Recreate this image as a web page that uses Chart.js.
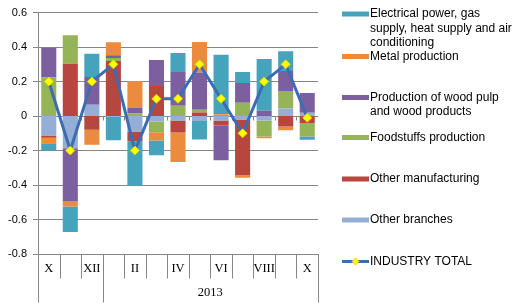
<!DOCTYPE html>
<html lang="en">
<head>
<meta charset="UTF-8">
<title>Industry contributions</title>
<script src="https://cdn.jsdelivr.net/npm/chart.js@4.4.1/dist/chart.umd.min.js"></script>
<style>
  body { margin: 0; background: #fff; }
  canvas { display: block; }
</style>
</head>
<body>
<canvas id="myChart" width="523" height="305"></canvas>
<script>
// months X.2012 .. X.2013
const months = ['X', 'XI', 'XII', 'I', 'II', 'III', 'IV', 'V', 'VI', 'VII', 'VIII', 'IX', 'X'];
const monthTicks = ['X', '', 'XII', '', 'II', '', 'IV', '', 'VI', '', 'VIII', '', 'X'];
const yearLabel = '2013';
const yearStart = 3; // index of I.2013

const otherBranches  = [-0.113, -0.187, 0.065, -0.005, -0.090, -0.031, -0.026, -0.029, -0.026, -0.020, -0.026, 0.044, 0.019];
const otherManuf     = [-0.013, 0.304, -0.079, 0.319, -0.056, 0.175, -0.070, 0.020, -0.029, -0.323, 0.000, -0.060, -0.042];
const foodstuffs     = [0.223, 0.165, 0.000, 0.017, 0.015, -0.063, 0.060, 0.017, 0.000, 0.077, -0.092, 0.102, -0.077];
const woodPulp       = [0.173, -0.308, 0.162, 0.017, 0.035, 0.150, 0.196, 0.215, -0.202, 0.115, 0.031, 0.115, 0.115];
const metal          = [-0.031, -0.029, -0.087, 0.075, 0.154, -0.048, -0.170, 0.177, 0.010, -0.015, -0.010, -0.023, 0.000];
const electrical     = [-0.042, -0.148, 0.135, -0.135, -0.258, -0.085, 0.110, -0.107, 0.345, 0.063, 0.300, 0.115, -0.019];
const industryTotal  = [0.20, -0.20, 0.20, 0.30, -0.20, 0.10, 0.10, 0.30, 0.10, -0.10, 0.20, 0.30, -0.01];

// legend text, top to bottom
const legendText = [
  ['Electrical power, gas', 'supply, heat supply and air', 'conditioning'],
  ['Metal production'],
  ['Production of wood pulp', 'and wood products'],
  ['Foodstuffs production'],
  ['Other manufacturing'],
  ['Other branches'],
  ['INDUSTRY TOTAL']
];

const colors = {
  elec: '#46A3BC', metal: '#EA8B3E', wood: '#7C5F9F',
  food: '#94B457', manuf: '#B6463F', other: '#95AED5',
  line: '#3D6CB3', marker: '#FFFF00'
};

function drawDiamond(ctx, cx, cy, r) {
  ctx.beginPath();
  ctx.moveTo(cx - r, cy); ctx.lineTo(cx, cy - r);
  ctx.lineTo(cx + r, cy); ctx.lineTo(cx, cy + r);
  ctx.closePath();
  ctx.fillStyle = colors.marker; ctx.fill();
  ctx.strokeStyle = '#D8D800'; ctx.lineWidth = 1; ctx.stroke();
}

const decorations = {
  id: 'decorations',
  beforeDatasetsDraw(chart) {
    // small ticks on the zero axis
    const { ctx, chartArea } = chart;
    const n = months.length;
    const cw = (chartArea.right - chartArea.left) / n;
    const y0 = Math.round(chart.scales.y.getPixelForValue(0)) + 0.5;
    ctx.save();
    ctx.strokeStyle = '#868686'; ctx.lineWidth = 1;
    ctx.beginPath();
    for (let k = 1; k < n; k++) {
      const bx = Math.round(chartArea.left + k * cw) + 0.5;
      ctx.moveTo(bx, y0); ctx.lineTo(bx, y0 + 4);
    }
    ctx.stroke();
    ctx.restore();
  },
  afterDraw(chart) {
    const { ctx, chartArea } = chart;
    const x = chart.scales.x;
    const n = months.length;
    const cw = (chartArea.right - chartArea.left) / n;
    const base = Math.round(chartArea.bottom) + 0.5;
    ctx.save();
    ctx.strokeStyle = '#868686'; ctx.lineWidth = 1;
    ctx.beginPath();
    for (let k = 0; k <= n; k++) {
      const bx = Math.round(chartArea.left + k * cw) + 0.5;
      const long = k === 0 || k === yearStart || k === n;
      ctx.moveTo(bx, base); ctx.lineTo(bx, base + (long ? 48 : 24));
    }
    ctx.stroke();

    ctx.fillStyle = '#000';
    ctx.font = '12.5px "Liberation Serif"';
    ctx.textAlign = 'center'; ctx.textBaseline = 'middle';
    monthTicks.forEach((t, i) => { if (t) ctx.fillText(t, x.getPixelForValue(i), base + 14.5); });
    ctx.fillText(yearLabel, chartArea.left + (yearStart + n) / 2 * cw, base + 38);

    // legend
    const swColors = [colors.elec, colors.metal, colors.wood, colors.food, colors.manuf, colors.other, null];
    const ys = [14, 56.5, 97.5, 137.5, 179, 220, 261.5];
    ctx.font = '12px "Liberation Sans"';
    ctx.textAlign = 'left';
    legendText.forEach((lines, i) => {
      const cy = ys[i];
      if (swColors[i]) {
        ctx.fillStyle = swColors[i];
        ctx.fillRect(342, cy - 2.5, 27, 5);
      } else {
        ctx.strokeStyle = colors.line; ctx.lineWidth = 3;
        ctx.beginPath(); ctx.moveTo(342, cy); ctx.lineTo(369, cy); ctx.stroke();
        drawDiamond(ctx, 355.5, cy, 3.5);
      }
      ctx.fillStyle = '#000';
      lines.forEach((s, j) => ctx.fillText(s, 370, cy + j * 14.5));
    });
    ctx.restore();
  }
};

const barSet = (label, data, color) => ({
  type: 'bar', label: label, data: data, backgroundColor: color,
  barPercentage: 0.7, categoryPercentage: 1
});

const ctx = document.getElementById('myChart').getContext('2d');
const myChart = new Chart(ctx, {
  type: 'bar',
  data: {
    labels: months,
    datasets: [
      {
        type: 'line', label: 'INDUSTRY TOTAL', data: industryTotal,
        borderColor: colors.line, borderWidth: 3, tension: 0,
        pointStyle: 'rectRot', pointRadius: 4.5,
        pointBackgroundColor: colors.marker, pointBorderColor: '#D8D800', pointBorderWidth: 1
      },
      barSet('Other branches', otherBranches, colors.other),
      barSet('Other manufacturing', otherManuf, colors.manuf),
      barSet('Foodstuffs production', foodstuffs, colors.food),
      barSet('Production of wood pulp and wood products', woodPulp, colors.wood),
      barSet('Metal production', metal, colors.metal),
      barSet('Electrical power, gas supply, heat supply and air conditioning', electrical, colors.elec)
    ]
  },
  options: {
    responsive: false,
    animation: false,
    layout: { padding: { top: 11, right: 205, left: 0, bottom: 0 } },
    plugins: { legend: { display: false }, tooltip: { enabled: false } },
    scales: {
      x: {
        stacked: true,
        grid: { display: false },
        border: { display: true, color: '#868686' },
        ticks: { display: false },
        afterFit(s) { s.height = 51; }
      },
      y: {
        stacked: true,
        min: -0.8, max: 0.6,
        ticks: {
          stepSize: 0.2, color: '#000', padding: 6,
          font: { family: 'Liberation Sans', size: 11 },
          callback: v => parseFloat(v.toFixed(1)).toString()
        },
        grid: { color: '#868686', tickLength: 5 },
        border: { color: '#868686' },
        afterFit(s) { s.width = 38; }
      }
    }
  },
  plugins: [decorations]
});
</script>
</body>
</html>
